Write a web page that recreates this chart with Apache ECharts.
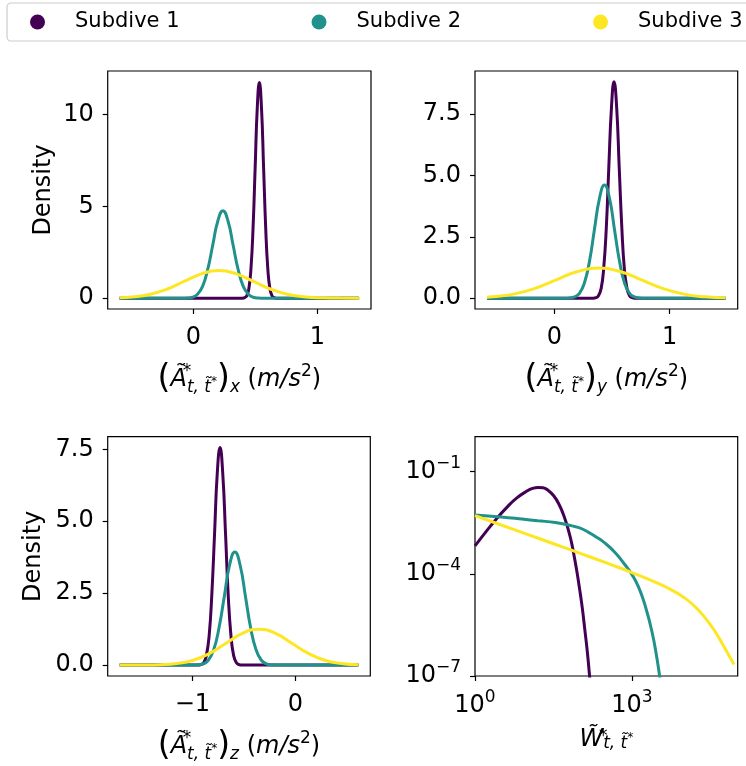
<!DOCTYPE html>
<html><head><meta charset="utf-8">
<script src="https://cdn.jsdelivr.net/npm/echarts@6/dist/echarts.min.js"></script>
<style>html,body{margin:0;padding:0;background:#fff}#c{width:746px;height:766px}</style>
</head><body><div id="c"></div><script>
// ---- names / colours ----
const seriesNames = ['Subdive 1', 'Subdive 2', 'Subdive 3'];
const seriesColors = ['#440154', '#21918c', '#fde725'];

// ---- panel A : (A)_x density ----
const accX_x1 = [-0.595, 0.396, 0.413, 0.430, 0.447, 0.464, 0.481, 0.498, 0.515, 0.532, 0.549, 0.566, 0.583, 0.600, 0.617, 0.634, 0.651, 0.668, 1.336];
const accX_d1 = [0, 0, 0.03, 0.13, 0.51, 1.59, 3.81, 7.11, 10.35, 11.73, 10.35, 7.11, 3.81, 1.59, 0.51, 0.13, 0.03, 0, 0];
const accX_x2 = [-0.595, -0.090, -0.049, -0.008, 0.033, 0.074, 0.115, 0.156, 0.197, 0.238, 0.279, 0.320, 0.361, 0.402, 0.443, 0.484, 0.525, 0.566, 1.336];
const accX_d2 = [0, 0, 0.01, 0.05, 0.21, 0.64, 1.55, 2.89, 4.20, 4.76, 4.20, 2.89, 1.55, 0.64, 0.21, 0.05, 0.01, 0, 0];
const accX_x3 = [-0.595, -0.495, -0.355, -0.215, -0.075, 0.065, 0.205, 0.345, 0.485, 0.625, 0.765, 0.905, 1.045, 1.185, 1.336];
const accX_d3 = [0.025, 0.066, 0.203, 0.487, 0.910, 1.324, 1.50, 1.324, 0.910, 0.487, 0.203, 0.066, 0.017, 0.003, 0.0005];

// ---- panel B : (A)_y density ----
const accY_x1 = [-0.586, 0.337, 0.360, 0.382, 0.405, 0.427, 0.450, 0.472, 0.495, 0.517, 0.540, 0.562, 0.585, 0.607, 0.630, 0.652, 0.675, 0.697, 1.487];
const accY_d1 = [0, 0, 0.02, 0.10, 0.39, 1.19, 2.86, 5.35, 7.78, 8.82, 7.78, 5.35, 2.86, 1.19, 0.39, 0.10, 0.02, 0, 0];
const accY_x2 = [-0.586, 0.086, 0.130, 0.173, 0.217, 0.260, 0.304, 0.347, 0.391, 0.434, 0.478, 0.521, 0.565, 0.608, 0.652, 0.695, 0.739, 0.782, 1.487];
const accY_d2 = [0, 0, 0.01, 0.05, 0.20, 0.62, 1.50, 2.80, 4.07, 4.61, 4.07, 2.80, 1.50, 0.62, 0.20, 0.05, 0.01, 0, 0];
const accY_x3 = [-0.586, -0.540, -0.355, -0.170, 0.015, 0.200, 0.385, 0.570, 0.755, 0.940, 1.125, 1.310, 1.487];
const accY_d3 = [0.039, 0.054, 0.166, 0.399, 0.746, 1.085, 1.23, 1.085, 0.746, 0.399, 0.166, 0.054, 0.015];

// ---- panel C : (A)_z density ----
const accZ_x1 = [-1.706, -0.943, -0.917, -0.890, -0.864, -0.837, -0.811, -0.784, -0.758, -0.731, -0.705, -0.678, -0.652, -0.625, -0.599, -0.572, -0.546, -0.519, 0.612];
const accZ_d1 = [0, 0, 0.02, 0.08, 0.33, 1.02, 2.45, 4.59, 6.67, 7.56, 6.67, 4.59, 2.45, 1.02, 0.33, 0.08, 0.02, 0, 0];
const accZ_x2 = [-1.706, -0.999, -0.948, -0.896, -0.845, -0.793, -0.742, -0.690, -0.639, -0.587, -0.536, -0.484, -0.433, -0.381, -0.330, -0.278, -0.227, -0.175, 0.612];
const accZ_d2 = [0, 0, 0.01, 0.04, 0.17, 0.53, 1.28, 2.38, 3.47, 3.93, 3.47, 2.38, 1.28, 0.53, 0.17, 0.04, 0.01, 0, 0];
const accZ_x3 = [-1.706, -1.473, -1.313, -1.153, -0.993, -0.833, -0.673, -0.513, -0.353, -0.193, -0.033, 0.127, 0.287, 0.447, 0.612];
const accZ_d3 = [0, 0.003, 0.014, 0.055, 0.169, 0.406, 0.758, 1.103, 1.25, 1.103, 0.758, 0.406, 0.169, 0.055, 0.013];

// ---- panel D : W (log-log) ----
const w_x1 = [1, 1.585, 2.512, 3.981, 6.31, 10, 12.59, 15.85, 19.95, 25.12, 31.62, 39.81, 50.12, 63.1, 70.79, 79.43, 89.13, 100, 112.2, 125.9, 141.3, 158.5];
const w_d1 = [6.61e-4, 1.66e-3, 3.98e-3, 8.71e-3, 1.70e-2, 2.75e-2, 3.24e-2, 3.47e-2, 3.39e-2, 2.82e-2, 2.0e-2, 1.15e-2, 5.0e-3, 1.58e-3, 7.6e-4, 3.0e-4, 1.1e-4, 3.5e-5, 1.0e-5, 2.2e-6, 4.5e-7, 6.3e-8];
const w_x2 = [1, 3.162, 7.943, 15.85, 34.28, 71.45, 100, 147.9, 199.5, 309.0, 478.6, 741.3, 1000, 1343, 1799, 2410, 3006, 3548];
const w_d2 = [5.37e-3, 4.68e-3, 4.07e-3, 3.63e-3, 3.24e-3, 2.57e-3, 2.24e-3, 1.66e-3, 1.26e-3, 7.9e-4, 4.2e-4, 1.82e-4, 9.5e-5, 4.0e-5, 1.12e-5, 2.0e-6, 3.2e-7, 5.6e-8];
const w_x3 = [1, 3.162, 10, 31.62, 100, 316.2, 1000, 3162, 5623, 10000, 17783, 31623, 44668, 63096, 89125];
const w_d3 = [5.13e-3, 2.72e-3, 1.45e-3, 7.67e-4, 4.06e-4, 2.13e-4, 1.09e-4, 5.24e-5, 3.39e-5, 2.0e-5, 9.3e-6, 3.16e-6, 1.41e-6, 5.6e-7, 2.19e-7];

// ---- tick values ----
const ticksAX = [0, 1], ticksAY = [0, 5, 10];
const ticksBX = [0, 1], ticksBY = [0, 2.5, 5, 7.5];
const ticksCX = [-1, 0], ticksCY = [0, 2.5, 5, 7.5];
const ticksDX = [1, 1000], ticksDY = [1e-7, 1e-4, 1e-1];

const FONT = 'DejaVu Sans';
const zip = (a, b) => a.map((v, i) => [v, b[i]]);
const minus = v => (v < 0 ? '\u2212' + Math.abs(v) : String(v));

const panels = [
  [[accX_x1, accX_d1], [accX_x2, accX_d2], [accX_x3, accX_d3]],
  [[accY_x1, accY_d1], [accY_x2, accY_d2], [accY_x3, accY_d3]],
  [[accZ_x1, accZ_d1], [accZ_x2, accZ_d2], [accZ_x3, accZ_d3]],
  [[w_x1, w_d1], [w_x2, w_d2], [w_x3, w_d3]]
];

const grids = [
  {left: 107.7, top: 71, width: 263.3, height: 238},
  {left: 475, top: 71, width: 262.7, height: 238},
  {left: 107.7, top: 436.7, width: 262.6, height: 239.3},
  {left: 475, top: 436.7, width: 262.7, height: 239.3}
].map(g => Object.assign(g, {show: true, borderColor: '#000', borderWidth: 1.2, backgroundColor: 'transparent'}));

const tickStyle = vals => ({show: true, inside: false, length: 5, lineStyle: {color: '#000', width: 1.2}, customValues: vals});
const nameRich = {
  p: {fontSize: 33, fontFamily: FONT, color: '#000'},
  A: {fontSize: 24, fontFamily: FONT, fontStyle: 'italic', color: '#000'},
  st: {fontSize: 17, fontFamily: FONT, color: '#000', width: 0, verticalAlign: 'top'},
  sb: {fontSize: 17, fontFamily: FONT, fontStyle: 'italic', color: '#000', verticalAlign: 'bottom'},
  ss: {fontSize: 12, fontFamily: FONT, color: '#000', verticalAlign: 'bottom', padding: [0, 0, 8, 0]},
  n: {fontSize: 24, fontFamily: FONT, color: '#000'},
  i: {fontSize: 24, fontFamily: FONT, fontStyle: 'italic', color: '#000'},
  s2: {fontSize: 17, fontFamily: FONT, color: '#000', verticalAlign: 'top'}
};
const accName = c => '{p|(}{A|\u00C3}{st|*}{sb|t, t\u0303}{ss|*}{p|)}{sb|' + c + '}{n| (}{i|m/s}{s2|2}{n|)}';
const wName = '{A|W\u0303}{st|*}{sb|t, t\u0303}{ss|*}';

const noLine = {show: false, onZero: false};
const linX = (idx, min, max, ticks, name, fmt) => ({
  type: 'value', gridIndex: idx, min: min, max: max,
  axisLine: noLine, splitLine: {show: false},
  axisTick: tickStyle(ticks),
  axisLabel: {customValues: ticks, fontSize: 24, fontFamily: FONT, color: '#000', margin: 17, formatter: fmt},
  name: name, nameLocation: 'middle', nameGap: 54,
  nameTextStyle: {fontSize: 24, fontFamily: FONT, color: '#000', rich: nameRich}
});
const linY = (idx, min, max, ticks, name, gap, fmt) => ({
  type: 'value', gridIndex: idx, min: min, max: max,
  axisLine: noLine, splitLine: {show: false},
  axisTick: tickStyle(ticks),
  axisLabel: {customValues: ticks, fontSize: 24, fontFamily: FONT, color: '#000', margin: 14, formatter: fmt},
  name: name, nameLocation: 'middle', nameGap: gap,
  nameTextStyle: {fontSize: 24, fontFamily: FONT, color: '#000'}
});
const powRich = {
  b: {fontSize: 24, fontFamily: FONT, color: '#000', lineHeight: 34},
  s: {fontSize: 17, fontFamily: FONT, color: '#000', lineHeight: 17, verticalAlign: 'top'}
};
const powFmt = v => { const e = Math.round(Math.log10(v)); return '{b|10}{s|' + minus(e) + '}'; };
const logAxis = (idx, min, max, ticks, name, margin) => ({
  type: 'log', logBase: 10, gridIndex: idx, min: min, max: max,
  axisLine: noLine, splitLine: {show: false}, minorTick: {show: false},
  axisTick: tickStyle(ticks),
  axisLabel: {customValues: ticks, color: '#000', margin: margin, formatter: powFmt, rich: powRich},
  name: name, nameLocation: 'middle', nameGap: 52,
  nameTextStyle: {fontSize: 24, fontFamily: FONT, color: '#000', rich: nameRich}
});

const xAxes = [
  linX(0, -0.691, 1.432, ticksAX, accName('x'), v => minus(v)),
  linX(1, -0.690, 1.591, ticksBX, accName('y'), v => minus(v)),
  linX(2, -1.822, 0.728, ticksCX, accName('z'), v => minus(v)),
  logAxis(3, 1, 104713, ticksDX, wName, 13)
];
const yAxes = [
  linY(0, -0.589, 12.36, ticksAY, 'Density', 52, v => minus(v)),
  linY(1, -0.441, 9.26, ticksBY, '', 50, v => v.toFixed(1)),
  linY(2, -0.378, 7.938, ticksCY, 'Density', 62, v => v.toFixed(1)),
  logAxis(3, 1e-7, 1.07, ticksDY, '', 14)
];

const series = [];
panels.forEach((pan, pi) => {
  pan.forEach((xy, si) => {
    series.push({
      type: 'line', name: seriesNames[si], xAxisIndex: pi, yAxisIndex: pi,
      data: zip(xy[0], xy[1]), showSymbol: false, symbol: 'none', smooth: true,
      color: seriesColors[si],
      lineStyle: {color: seriesColors[si], width: 3}, itemStyle: {color: seriesColors[si]},
      z: 2 + si
    });
  });
});

const chart = echarts.init(document.getElementById('c'), null, {renderer: 'canvas'});
chart.setOption({
  animation: false,
  backgroundColor: '#fff',
  textStyle: {fontFamily: FONT},
  legend: {
    data: seriesNames, icon: 'circle', itemWidth: 15, itemHeight: 15, itemGap: 132,
    orient: 'horizontal', left: 7, top: 3, width: 2000, padding: [8, 10, 8, 23],
    borderColor: '#cccccc', borderWidth: 1.2, borderRadius: 4, backgroundColor: '#fff',
    selectedMode: false,
    textStyle: {fontSize: 21, fontFamily: FONT, color: '#000', lineHeight: 22, padding: [0, 0, 0, 25]}
  },
  grid: grids,
  xAxis: xAxes,
  yAxis: yAxes,
  series: series
});
</script></body></html>
